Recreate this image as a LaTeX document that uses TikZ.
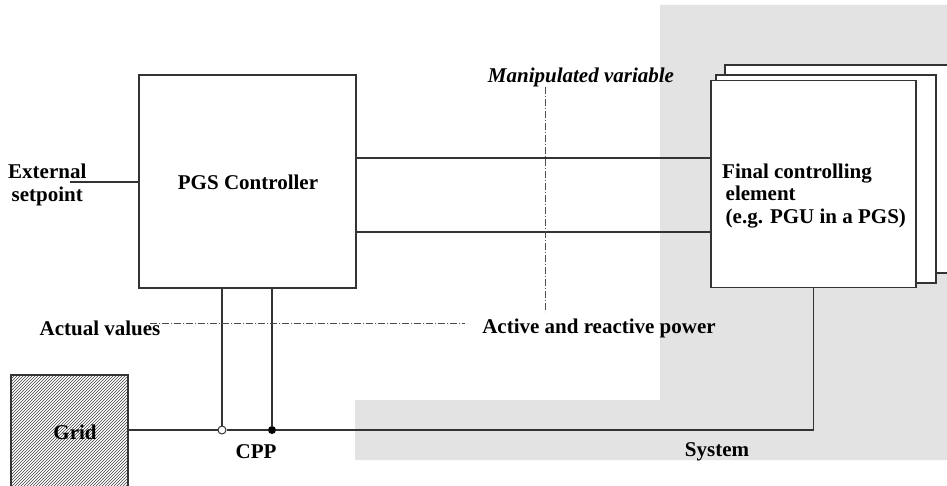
\documentclass[tikz,border=0pt]{standalone}
\usepackage{fontspec}
\setmainfont{Liberation Serif}
\usetikzlibrary{patterns}

\begin{document}
\begin{tikzpicture}[x=1pt, y=-1pt,
  font=\fontsize{21}{22.5}\selectfont\bfseries,
  wire/.style={line width=1.2pt, black!80},
  box/.style={draw=black!80, line width=1.2pt, fill=white, rectangle, inner sep=0pt},
  sigline/.style={line width=0.9pt, black!70, dash pattern=on 7pt off 2pt on 1pt off 2pt},
  lbl/.style={inner sep=0pt}]
\useasboundingbox (0,0) rectangle (947,486);
% system area
\fill[black!11] (660,5) -- (960,5) -- (960,460) -- (355,460) -- (355,400) -- (660,400) -- cycle;
% stacked final elements
\draw[box] (725,65) rectangle (960,273);
\draw[box] (716,75) rectangle (936,283);
\node[box, minimum width=205pt, minimum height=207pt] (fce) at (813.5,184){};
\node[lbl, align=left, anchor=west] (fcetxt) at (722,196) {Final controlling\\\,element\\\,(e.g. PGU in a PGS)};
\node[box, minimum width=217pt, minimum height=213pt] (ctrl) at (247.5,181.5){};
\node[lbl] (ctrltxt) at (248,182) {PGS Controller};
\node[box, pattern=north east lines, pattern color=black!75, minimum width=117pt, minimum height=116pt] (grid) at (69.5,433){};
\node[lbl] (gridtxt) at (75,432) {Grid};

\coordinate (sp) at (70,182);
\coordinate (upper) at (0,158);
\coordinate (lower) at (0,232);
\node[circle, draw=black!80, fill=white, line width=1pt, inner sep=0pt, minimum size=8pt] (cppA) at (222,430){};
\node[circle, fill=black, inner sep=0pt, minimum size=8pt] (cppB) at (272,430){};

\draw[wire] (sp) -- (ctrl.west |- sp);
\draw[wire] (ctrl.east |- upper) -- (fce.west |- upper);
\draw[wire] (ctrl.east |- lower) -- (fce.west |- lower);
\draw[wire] (ctrl.south -| cppA) -- (cppA);
\draw[wire] (ctrl.south -| cppB) -- (cppB);
\draw[wire] (grid.east |- cppA) -- (cppA);
\draw[wire] (cppA) -- (cppB) -- (fce.south |- cppB) -- (fce.south);

% signal lines
\node[lbl, font=\fontsize{21}{22.5}\selectfont\bfseries\itshape] (manip) at (581,77) {Manipulated variable};
\node[lbl] (actual) at (100,328) {Actual values};
\node[lbl] (power) at (599,328) {Active and reactive power};
\coordinate (mtop) at (545,87);
\coordinate (mbot) at (545,312);
\coordinate (aleft) at (150,323);
\coordinate (aright) at (465,323);
\draw[sigline] (mtop) -- (mbot);
\draw[sigline] (aleft) -- (aright);

\node[lbl, align=left, anchor=west] (ext) at (8,185) {External\\\,setpoint};
\node[lbl] (cpp) at (256,452) {CPP};
\node[lbl] (sys) at (717,452) {System};
\end{tikzpicture}
\end{document}
